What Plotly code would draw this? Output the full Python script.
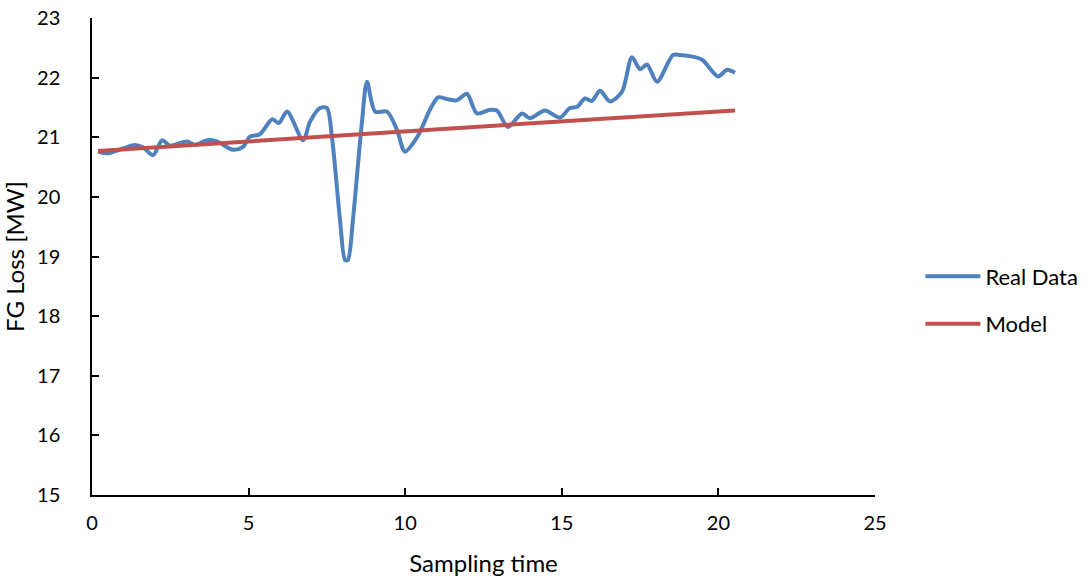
import plotly.graph_objects as go

# Measured FG loss over sampling time
time_real = [0.19, 0.51, 1.37, 1.63, 1.95, 2.24, 2.49, 3.03, 3.29, 3.67, 3.99, 4.50, 4.82,
             5.04, 5.36, 5.75, 5.97, 6.23, 6.74, 6.96, 7.28, 7.50, 7.66, 7.92, 8.08, 8.17,
             8.33, 8.62, 8.78, 9.04, 9.42, 9.74, 9.99, 10.40, 10.79, 11.05, 11.33, 11.65,
             11.97, 12.29, 12.71, 12.93, 13.28, 13.73, 13.98, 14.46, 14.94, 15.26, 15.49,
             15.74, 15.96, 16.22, 16.54, 16.92, 17.24, 17.50, 17.72, 18.04, 18.55, 18.77,
             19.09, 19.48, 19.99, 20.27, 20.53]
loss_real = [20.76, 20.73, 20.87, 20.83, 20.70, 20.95, 20.86, 20.93, 20.87, 20.95, 20.93,
             20.79, 20.84, 21.01, 21.05, 21.30, 21.24, 21.43, 20.95, 21.26, 21.49, 21.49,
             21.01, 19.61, 18.94, 18.94, 19.61, 21.26, 21.93, 21.43, 21.43, 21.12, 20.76,
             21.02, 21.46, 21.67, 21.64, 21.62, 21.73, 21.40, 21.46, 21.45, 21.17, 21.40,
             21.32, 21.45, 21.33, 21.49, 21.51, 21.65, 21.61, 21.78, 21.60, 21.76, 22.34,
             22.14, 22.22, 21.93, 22.38, 22.38, 22.36, 22.30, 22.02, 22.13, 22.08]

# Linear model prediction
time_model = [0.19, 20.53]
loss_model = [20.77, 21.45]

x_ticks = [0, 5, 10, 15, 20, 25]
y_ticks = [15, 16, 17, 18, 19, 20, 21, 22, 23]

FONT = "Lato"

fig = go.Figure()
fig.add_trace(go.Scatter(
    x=time_real, y=loss_real, name="Real Data", mode="lines",
    line=dict(color="#4F81BD", width=4, shape="spline", smoothing=0.8),
    legendgroup="a",
))
fig.add_trace(go.Scatter(
    x=time_model, y=loss_model, name="Model", mode="lines",
    line=dict(color="#C0504D", width=4),
    legendgroup="b",
))

axis_common = dict(
    showline=True, linecolor="black", linewidth=1.5,
    ticks="inside", ticklen=7, tickwidth=1.5, tickcolor="black",
    showgrid=False, zeroline=False, automargin=False,
    tickfont=dict(family=FONT, size=20, color="black"),
)

fig.update_layout(
    width=1087, height=578,
    margin=dict(l=92, r=212, t=18, b=83, autoexpand=False),
    paper_bgcolor="white", plot_bgcolor="white",
    font=dict(family=FONT, color="black"),
    xaxis=dict(range=[0, 25], tickvals=x_ticks, ticklabelstandoff=9,
               title=dict(text="Sampling time", font=dict(family=FONT, size=24), standoff=22),
               **axis_common),
    yaxis=dict(range=[15, 23], tickvals=y_ticks, ticklabelstandoff=26,
               title=dict(text="FG Loss [MW]", font=dict(family=FONT, size=24), standoff=8),
               **axis_common),
    legend=dict(x=1.058, y=0.408, xanchor="left", yanchor="middle",
                font=dict(family=FONT, size=22, color="black"),
                traceorder="grouped", tracegroupgap=16, itemwidth=55,
                bgcolor="rgba(0,0,0,0)"),
)

fig.write_html("out.html")
